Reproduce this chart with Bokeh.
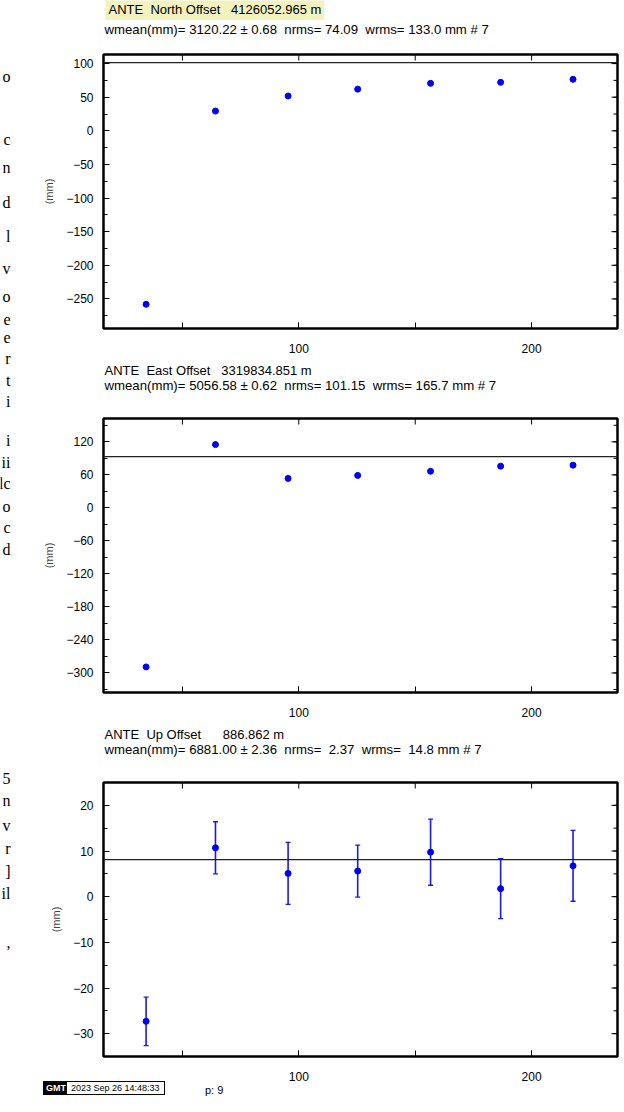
from bokeh.plotting import figure
from bokeh.models import (Range1d, FixedTicker, Label, Whisker, Div,
                          ColumnDataSource, TeeHead, Span)
from bokeh.layouts import column, row
from bokeh.embed import file_html
from bokeh.resources import INLINE

# ---------------- data ----------------
days = [34.4, 64.2, 95.4, 125.3, 156.6, 186.7, 217.8]
north = [-258.0, 29.4, 51.8, 62.0, 70.6, 72.1, 76.6]
east = [-289.0, 115.0, 53.5, 59.0, 66.5, 75.8, 77.6]
up = [-27.3, 10.7, 5.1, 5.6, 9.75, 1.75, 6.75]
up_sig = [5.3, 5.7, 6.8, 5.7, 7.25, 6.55, 7.75]
means = [101.3, 93.0, 8.1]

x_ticks = [50, 100, 150, 200]
x_labelled = [100, 200]
north_ticks = [-250, -200, -150, -100, -50, 0, 50, 100]
north_minor = [-275, -250, -225, -200, -175, -150, -125, -100, -75, -50, -25, 0, 25, 50, 75, 100]
east_ticks = [-300, -240, -180, -120, -60, 0, 60, 120]
east_minor = [-330, -300, -270, -240, -210, -180, -150, -120, -90, -60, -30, 0, 30, 60, 90, 120, 150]
up_ticks = [-30, -20, -10, 0, 10, 20]
up_minor = [-35, -30, -25, -20, -15, -10, -5, 0, 5, 10, 15, 20]

titles = ["ANTE\u00a0\u00a0North Offset\u00a0\u00a0\u00a04126052.965 m",
          "ANTE\u00a0\u00a0East Offset\u00a0\u00a0\u00a03319834.851 m",
          "ANTE\u00a0\u00a0Up Offset\u00a0\u00a0\u00a0\u00a0\u00a0\u00a0886.862 m"]
stats = ["wmean(mm)= 3120.22 \u00b1\u00a00.68\u00a0\u00a0nrms= 74.09\u00a0\u00a0wrms= 133.0 mm # 7",
         "wmean(mm)= 5056.58 \u00b1\u00a00.62\u00a0\u00a0nrms= 101.15\u00a0\u00a0wrms= 165.7 mm # 7",
         "wmean(mm)= 6881.00 \u00b1\u00a02.36\u00a0\u00a0nrms=\u00a0\u00a02.37\u00a0\u00a0wrms=\u00a0\u00a014.8 mm # 7"]
y_label = "(mm)"
logo = "GMT"
stamp = "2023 Sep 26 14:48:33"
page_no = "p: 9"
frag_chars = ["o", "c", "n", "d", "l", "v", "o", "e", "e", "r", "t", "i", "i", "ii", "lc", "o", "c", "d",
              "5", "n", "v", "r", "]", "il", ","]
frag_y = [76, 139, 167, 202, 236, 268, 296, 319, 337, 358, 380, 401, 440, 462, 483, 506, 527, 549,
          778, 800, 825, 848, 871, 893, 942]

# ---------------- layout geometry (page pixels) ----------------
SANS = "Liberation Sans"
SERIF = "Liberation Serif"
FRAG_W = 12                  # strip at the far left
COL_W = 608                  # width of the column holding the panels
FRAME_L, FRAME_R = 103, 617  # page x of the plot frames
TITLE_H = 50                 # text block above each panel
BORDER_T = 4
FRAME_H = 274
BORDER_B = 36
PANEL_H = BORDER_T + FRAME_H + BORDER_B
title_y = [(9, 29), (6, 21), (6, 21)]   # (title, stats) centre inside each text block

yranges = [(-294.0, 113.5), (-335.5, 162.4), (-35.0, 25.0)]
xrange_ = (16.1, 236.9)
series = [north, east, up]
tick_sets = [(north_ticks, north_minor), (east_ticks, east_minor), (up_ticks, up_minor)]

has_padding = "padding" in Label.properties()


def minus(v):
    return str(v).replace("-", "\u2212")


def canvas(x0, x1, h, **kw):
    # a text-only strip whose x coordinates are page pixels
    c = figure(width=x1 - x0 if x0 == 0 else COL_W, height=h,
               x_range=Range1d(x0, x1), y_range=Range1d(h, 0),
               output_backend="svg", toolbar_location=None, min_border=0, title=None,
               x_axis_type=None, y_axis_type=None, **kw)
    c.outline_line_color = None
    c.grid.visible = False
    return c


def text(c, s, x, y, size, font=SANS, align="left", color="black", pad=None, **kw):
    if pad is not None and has_padding:
        kw["padding"] = pad
    c.add_layout(Label(x=x, y=y, text=s, text_font=font, text_font_size=f"{size}px",
                       text_align=align, text_baseline="middle", text_color=color, **kw))


children = []
for i in range(3):
    # text block above the panel (its frame is aligned with the panel frames)
    tc = canvas(FRAME_L, FRAME_R, TITLE_H)
    if i == 0:
        text(tc, titles[i], 105, title_y[i][0], 13, background_fill_color="#f2f2bf", pad=3)
    else:
        text(tc, titles[i], 104, title_y[i][0], 13)
    text(tc, stats[i], 104, title_y[i][1], 13.2)
    children.append(tc)

    p = figure(width=COL_W, height=PANEL_H, output_backend="svg", toolbar_location=None,
               title=None, x_range=Range1d(*xrange_), y_range=Range1d(*yranges[i]),
               min_border_left=FRAME_L - FRAG_W, min_border_right=FRAG_W + COL_W - FRAME_R,
               min_border_top=BORDER_T, min_border_bottom=BORDER_B)
    p.grid.visible = False
    p.outline_line_color = "black"
    p.outline_line_width = 2.5
    p.background_fill_color = "white"
    p.border_fill_color = "white"

    yt, ym = tick_sets[i]
    ax = p.xaxis[0]
    ax.ticker = FixedTicker(ticks=x_labelled, minor_ticks=x_ticks)
    ax.major_label_standoff = 15
    ax.minor_tick_in = 6
    ax = p.yaxis[0]
    ax.ticker = FixedTicker(ticks=yt, minor_ticks=ym)
    ax.major_label_overrides = {t: minus(t) for t in yt}
    ax.major_label_standoff = 10
    ax.axis_label = y_label
    ax.axis_label_text_font = SANS
    ax.axis_label_text_font_size = "11px"
    ax.axis_label_text_font_style = "normal"
    ax.axis_label_standoff = 8
    ax.minor_tick_in = 4
    for ax in (p.xaxis[0], p.yaxis[0]):
        ax.axis_line_color = None
        ax.major_tick_in = 6
        ax.major_tick_out = 0
        ax.minor_tick_out = 0
        ax.major_tick_line_color = "black"
        ax.minor_tick_line_color = "black"
        ax.major_label_text_font = SANS
        ax.major_label_text_font_size = "12px"
        ax.major_label_text_color = "black"

    # inward ticks on the top and right edges of the frame
    y0, y1 = yranges[i]
    x0r, x1r = xrange_
    dy_major = 6 * (y1 - y0) / FRAME_H
    dx_major = 6 * (x1r - x0r) / (FRAME_R - FRAME_L)
    dx_minor = 4 * (x1r - x0r) / (FRAME_R - FRAME_L)
    p.segment(x0=x_ticks, y0=[y1] * len(x_ticks), x1=x_ticks, y1=[y1 - dy_major] * len(x_ticks),
              line_color="black", line_width=1)
    p.segment(x0=[x1r] * len(ym), y0=ym, x1=[x1r - dx_minor] * len(ym), y1=ym,
              line_color="black", line_width=1)
    p.segment(x0=[x1r] * len(yt), y0=yt, x1=[x1r - dx_major] * len(yt), y1=yt,
              line_color="black", line_width=1)

    p.add_layout(Span(location=means[i], dimension="width", line_color="#222222", line_width=1.3))

    if i == 2:
        src = ColumnDataSource(dict(x=days, y=up,
                                    lo=[v - s for v, s in zip(up, up_sig)],
                                    hi=[v + s for v, s in zip(up, up_sig)]))
        p.add_layout(Whisker(base="x", lower="lo", upper="hi", source=src,
                             line_color="#1a1ae6", line_width=1.6,
                             lower_head=TeeHead(size=5, line_color="#1a1ae6", line_width=1.3),
                             upper_head=TeeHead(size=5, line_color="#1a1ae6", line_width=1.3)))
        p.scatter("x", "y", source=src, size=6, marker="circle", color="#0000ee")
    else:
        p.scatter(days, series[i], size=6, marker="circle", color="#0000ee")
    children.append(p)

# footer: GMT time stamp and page number, overlapping the last panel's bottom border
foot_html = (
    '<div style="position:relative;width:230px;height:28px;font-family:\'Liberation Sans\';">'
    f'<span style="position:absolute;left:{43 - FRAG_W}px;top:9px;background:#000;color:#fff;'
    'font-weight:bold;font-size:9px;line-height:12px;padding:0 2px;border:1px solid #000;">'
    f'{logo}</span>'
    f'<span style="position:absolute;left:{66 - FRAG_W}px;top:9px;background:#fff;color:#000;'
    'font-size:9px;line-height:12px;padding:0 4px;border:1px solid #000;">'
    f'{stamp}</span>'
    f'<span style="position:absolute;left:{205 - FRAG_W}px;top:12px;color:#000;'
    f'font-size:11px;line-height:13px;">{page_no}</span>'
    '</div>'
)
foot = Div(text=foot_html, width=230, height=28, margin=(-20, 0, 0, 0))
children.append(foot)

# cropped letters of a neighbouring page at the far left
TOTAL_H = 3 * (TITLE_H + PANEL_H)
frag = canvas(0, FRAG_W, TOTAL_H)
for ch, y in zip(frag_chars, frag_y):
    text(frag, ch, FRAG_W - 2, y, 16, font=SERIF, align="right")

layout = row(frag, column(*children, spacing=0), spacing=0)
open("out.html", "w").write(file_html(layout, INLINE))
